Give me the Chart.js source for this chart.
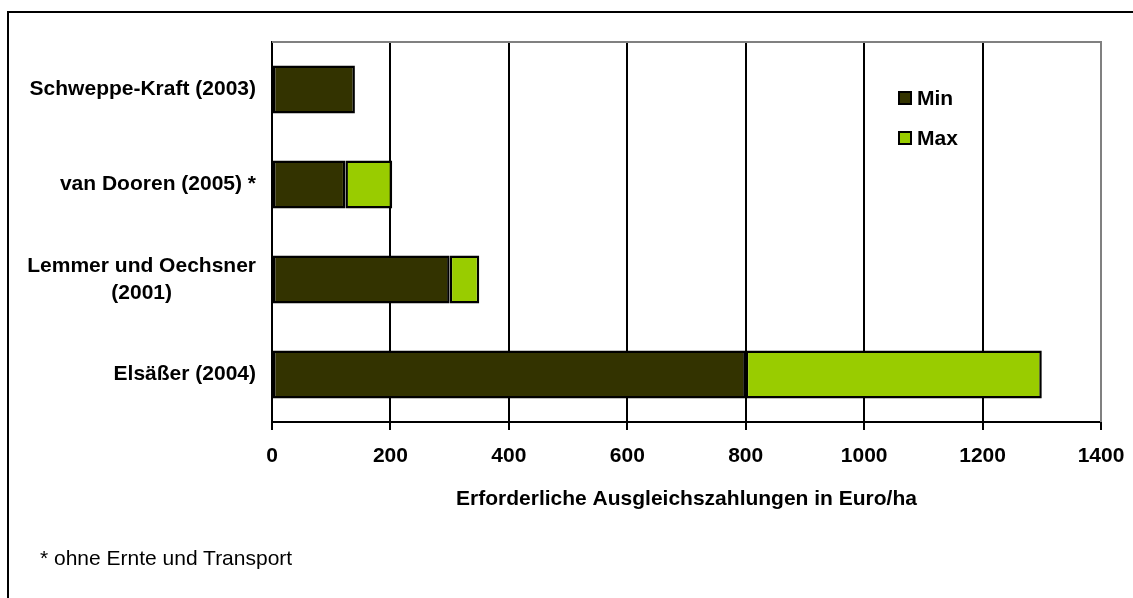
<!DOCTYPE html>
<html>
<head>
<meta charset="utf-8">
<script src="https://cdn.jsdelivr.net/npm/chart.js@4/dist/chart.umd.min.js"></script>
<style>
  html, body { margin: 0; padding: 0; background: #fff; }
  #wrap { position: relative; width: 1133px; height: 598px; overflow: hidden; }
  #frame { position: absolute; left: 7px; top: 11px; width: 1200px; height: 700px; border: 2px solid #000; box-sizing: border-box; pointer-events: none; }
  #note { position: absolute; left: 40px; top: 546px; font: 21px "Liberation Sans", Arial, sans-serif; color: #000; }
</style>
</head>
<body>
<div id="wrap">
  <canvas id="chart" width="1133" height="598"></canvas>
  <div id="frame"></div>
  <div id="note">* ohne Ernte und Transport</div>
</div>
<script>
// studies and compensation payments (Euro/ha)
const categories = [
  ['Schweppe-Kraft (2003)'],
  ['van Dooren (2005) *'],
  ['Lemmer und Oechsner', '(2001)'],
  ['Elsäßer (2004)']
];
const minValues = [140, 124, 300, 800];
const maxValues = [null, 79, 50, 500];   // extra on top of Min
const xTicks = [0, 200, 400, 600, 800, 1000, 1200, 1400];

const FONT = '"Liberation Sans", Arial, sans-serif';

// category labels: block right-aligned to the axis, lines centred inside the block
const yLabelPlugin = {
  id: 'yLabels',
  afterDraw(chart) {
    const ctx = chart.ctx;
    const yScale = chart.scales.y;
    const right = chart.chartArea.left - 16;
    ctx.save();
    ctx.font = 'bold 21px ' + FONT;
    ctx.fillStyle = '#000';
    ctx.textAlign = 'center';
    ctx.textBaseline = 'middle';
    categories.forEach((lines, i) => {
      const cy = yScale.getPixelForTick(i);
      const w = Math.max(...lines.map(l => ctx.measureText(l).width));
      const lh = 27.5;
      const y0 = cy - (lines.length - 1) * lh / 2;
      lines.forEach((l, j) => ctx.fillText(l, right - w / 2, y0 + j * lh));
    });
    ctx.restore();
  }
};

// grey frame on the top and right of the plot area
const plotFramePlugin = {
  id: 'plotFrame',
  beforeDatasetsDraw(chart) {
    const {ctx, chartArea: a} = chart;
    ctx.save();
    ctx.strokeStyle = '#808080';
    ctx.lineWidth = 2;
    ctx.beginPath();
    ctx.moveTo(a.left, a.top);
    ctx.lineTo(a.right, a.top);
    ctx.lineTo(a.right, a.bottom);
    ctx.stroke();
    ctx.restore();
  }
};

// legend box inside the plot
const legendPlugin = {
  id: 'boxLegend',
  afterDraw(chart) {
    const ctx = chart.ctx;
    const rows = [98, 137.5];
    ctx.save();
    ctx.font = 'bold 21px ' + FONT;
    ctx.textBaseline = 'middle';
    ctx.textAlign = 'left';
    chart.data.datasets.forEach((ds, i) => {
      const y = Math.round(rows[i]);
      ctx.fillStyle = '#000';
      ctx.fillRect(898, y - 7, 14, 14);
      ctx.fillStyle = ds.backgroundColor;
      ctx.fillRect(900, y - 5, 10, 10);
      ctx.fillStyle = '#000';
      ctx.fillText(ds.label, 917, y + 1);
    });
    ctx.restore();
  }
};

new Chart(document.getElementById('chart'), {
  type: 'bar',
  data: {
    labels: categories,
    datasets: [
      {
        label: 'Min',
        data: minValues,
        backgroundColor: '#333300',
        borderColor: '#000',
        borderWidth: 2.5,
        borderSkipped: false,
        barPercentage: 0.505,
        categoryPercentage: 1
      },
      {
        label: 'Max',
        data: maxValues,
        backgroundColor: '#99CC00',
        borderColor: '#000',
        borderWidth: 2.5,
        borderSkipped: false,
        barPercentage: 0.505,
        categoryPercentage: 1
      }
    ]
  },
  options: {
    indexAxis: 'y',
    responsive: false,
    animation: false,
    devicePixelRatio: 1,
    layout: { padding: { left: 0, top: 42, right: 32, bottom: 86 } },
    plugins: { legend: { display: false }, tooltip: { enabled: false } },
    scales: {
      x: {
        stacked: true,
        min: 0,
        max: 1400,
        afterBuildTicks: s => { s.ticks = xTicks.map(v => ({ value: v })); },
        afterFit: s => { s.height = 90; s.paddingLeft = 0; s.paddingRight = 0; },
        grid: {
          color: c => (c.tick && c.tick.value === 1400 ? '#808080' : '#000'),
          tickColor: '#000',
          lineWidth: 2,
          tickLength: 8
        },
        border: { color: '#000', width: 2 },
        ticks: {
          color: '#000',
          padding: 14,
          maxRotation: 0,
          callback: v => String(v),
          font: { family: FONT, size: 21, weight: 'bold' }
        },
        title: {
          display: true,
          text: 'Erforderliche Ausgleichszahlungen in Euro/ha',
          color: '#000',
          padding: { top: 4, bottom: 0 },
          font: { family: FONT, size: 21, weight: 'bold' }
        }
      },
      y: {
        stacked: true,
        afterFit: s => { s.width = 272; },
        grid: { display: false, drawTicks: false },
        border: { color: '#000', width: 2 },
        ticks: { display: false }
      }
    }
  },
  plugins: [yLabelPlugin, plotFramePlugin, legendPlugin]
});
</script>
</body>
</html>
